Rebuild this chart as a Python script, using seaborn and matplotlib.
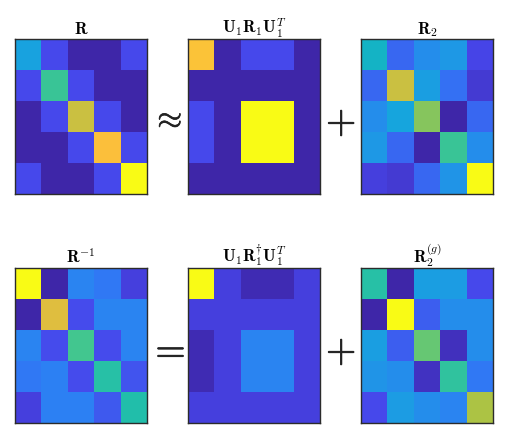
import numpy as np
import seaborn as sns
import matplotlib.pyplot as plt
import matplotlib.patheffects as pe
from matplotlib.colors import LinearSegmentedColormap

plt.rcParams['mathtext.fontset'] = 'cm'

# approximate MATLAB parula
parula = LinearSegmentedColormap.from_list('parula', [
    (0.000, '#3e26a8'), (0.125, '#4746eb'), (0.250, '#2e7df5'),
    (0.375, '#15a7dc'), (0.500, '#14bbb6'), (0.625, '#4dc985'),
    (0.750, '#aac344'), (0.875, '#fbbb3d'), (1.000, '#f9fb15')])

# normalised cell values (each panel scaled on its own, like imagesc)
R = [[0.36, 0.13, 0.00, 0.00, 0.13],
     [0.13, 0.58, 0.13, 0.00, 0.00],
     [0.00, 0.13, 0.80, 0.13, 0.00],
     [0.00, 0.00, 0.13, 0.88, 0.13],
     [0.13, 0.00, 0.00, 0.13, 1.00]]

R1_low = [[0.89, 0.00, 0.13, 0.13, 0.00],
          [0.00, 0.00, 0.00, 0.00, 0.00],
          [0.13, 0.00, 1.00, 1.00, 0.00],
          [0.13, 0.00, 1.00, 1.00, 0.00],
          [0.00, 0.00, 0.00, 0.00, 0.00]]

R2 = [[0.45, 0.20, 0.30, 0.33, 0.12],
      [0.20, 0.80, 0.35, 0.22, 0.08],
      [0.30, 0.37, 0.70, 0.00, 0.20],
      [0.33, 0.20, 0.00, 0.58, 0.30],
      [0.10, 0.08, 0.20, 0.32, 1.00]]

R_inv = [[1.00, 0.00, 0.27, 0.24, 0.10],
         [0.00, 0.83, 0.14, 0.27, 0.27],
         [0.27, 0.14, 0.60, 0.14, 0.27],
         [0.24, 0.26, 0.14, 0.54, 0.16],
         [0.10, 0.26, 0.26, 0.17, 0.53]]

R1_pinv = [[1.00, 0.10, 0.02, 0.02, 0.10],
           [0.10, 0.10, 0.10, 0.10, 0.10],
           [0.02, 0.10, 0.27, 0.27, 0.10],
           [0.02, 0.10, 0.27, 0.27, 0.10],
           [0.10, 0.10, 0.10, 0.10, 0.10]]

R2_g = [[0.54, 0.00, 0.35, 0.34, 0.13],
        [0.00, 1.00, 0.18, 0.30, 0.30],
        [0.35, 0.18, 0.66, 0.04, 0.30],
        [0.32, 0.30, 0.05, 0.56, 0.24],
        [0.13, 0.34, 0.30, 0.27, 0.75]]

titles = [r'$\mathbf{R}$', r'$\mathbf{U}_1\mathbf{R}_1\mathbf{U}_1^T$', r'$\mathbf{R}_2$',
          r'$\mathbf{R}^{-1}$', r'$\mathbf{U}_1\mathbf{R}_1^{\dagger}\mathbf{U}_1^T$',
          r'$\mathbf{R}_2^{(g)}$']
mats = [R, R1_low, R2, R_inv, R1_pinv, R2_g]

W, H = 505, 439
fig = plt.figure(figsize=(W / 100, H / 100), dpi=100)
lefts = [15, 188, 361]
tops = [40, 269]
for i, (m, t) in enumerate(zip(mats, titles)):
    x0 = lefts[i % 3]
    y0 = tops[i // 3]
    ax = fig.add_axes([x0 / W, 1 - (y0 + 155) / H, 132 / W, 155 / H])
    sns.heatmap(np.array(m), ax=ax, cmap=parula, vmin=0, vmax=1, cbar=False,
                xticklabels=False, yticklabels=False, square=False)
    for s in ax.spines.values():
        s.set_visible(True)
        s.set_color('#2b2b2b')
        s.set_linewidth(1.0)
    ax.set_title(t, fontsize=12, pad=4)

# operators between the panels
ops = [(r'$\approx$', 167, 118, 23), (r'$+$', 341, 119, 28),
       (r'$=$', 167, 348, 28), (r'$+$', 341, 348, 28)]
for s, x, y, fs in ops:
    fig.text(x / W, 1 - y / H, s, fontsize=fs, ha='center', va='center_baseline',
             color='#222222',
             path_effects=[pe.withStroke(linewidth=0.5, foreground='#222222')])

fig.savefig('out.png', dpi=100)
